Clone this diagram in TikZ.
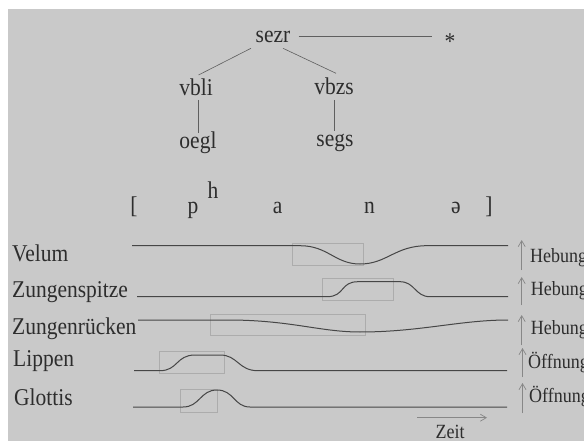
\documentclass[tikz,border=0pt]{standalone}
\usepackage{fontspec}
\setmainfont{Liberation Serif}
\usetikzlibrary{arrows.meta,calc}
\definecolor{bg}{RGB}{201,201,201}
\definecolor{txt}{RGB}{45,45,45}
\definecolor{curve}{RGB}{70,70,70}
\definecolor{boxc}{RGB}{172,172,172}
\definecolor{arrc}{RGB}{135,135,135}
\definecolor{treec}{RGB}{95,95,95}
\newcommand\bigf{\fontsize{21.5}{24}\selectfont}
\newcommand\smallf{\fontsize{18}{20}\selectfont}
\tikzset{
  lbl/.style={inner sep=0pt, anchor=base, font=\bigf, text=txt, yscale=1.12},
  leftlbl/.style={lbl, anchor=base west},
  rightlbl/.style={inner sep=0pt, anchor=base west, font=\smallf, text=txt, yscale=1.12},
  treeline/.style={treec, line width=0.6pt},
  curveline/.style={curve, line width=1pt},
  boxline/.style={boxc, line width=0.6pt},
  uparrow/.style={arrc, line width=0.7pt, -{Straight Barb[length=6pt,width=7pt]}}
}
\begin{document}
\begin{tikzpicture}[x=1pt,y=-1pt]
\useasboundingbox (0,0) rectangle (584,441);
\fill[white] (0,0) rectangle (584,441);
\fill[bg] (8,9) rectangle (584,441);

% tree
\node[lbl] (sezr) at (273,42.7) {sezr};
\node[inner sep=0pt, anchor=north, font=\bigf, text=txt, yscale=1.12] (star) at (450,33.3) {*};
\node[lbl] (vbli) at (196,96) {vbli};
\node[lbl] (vbzs) at (334,94.5) {vbzs};
\node[lbl] (oegl) at (198,148.3) {oegl};
\node[lbl] (segs) at (335,146.7) {segs};
\draw[treeline] ($(sezr.base)+(25.5,-6)$) -- ($(star.north)+(-18,3.4)$);
\draw[treeline] ($(sezr.base)+(-22,5.6)$) -- ($(vbli.base)+(2.5,-21)$);
\draw[treeline] ($(sezr.base)+(10,5.6)$) -- ($(vbzs.base)+(2,-21.2)$);
\draw[treeline] ($(vbli.base)+(2.5,4)$) -- ($(oegl.base)+(0.5,-15)$);
\draw[treeline] ($(vbzs.base)+(0,5.5)$) -- ($(segs.base)+(-1,-15.7)$);

% phonetic transcription
\node[lbl] (lb) at (134,213) {[};
\node[lbl] (p) at (193,213) {p};
\node[lbl] (h) at (213,199) {h};
\node[lbl] (a) at (277.6,213) {a};
\node[lbl] (n) at (369.5,213) {n};
\node[lbl] (schwa) at (456,213) {ə};
\node[lbl] (rb) at (489,213) {]};

% left labels
\node[leftlbl] (velum) at (12,261) {Velum};
\node[leftlbl] (zsp) at (12,297) {Zungenspitze};
\node[leftlbl] (zr) at (12,334) {Zungenrücken};
\node[leftlbl] (lip) at (13,366.7) {Lippen};
\node[leftlbl] (glot) at (14,405.7) {Glottis};

% boxes
\draw[boxline] (292,243) rectangle (363,265);
\draw[boxline] (322.3,278) rectangle (393.3,300);
\draw[boxline] (210,314) rectangle (365,335);
\draw[boxline] (159,351) rectangle (224,373);
\draw[boxline] (180,389) rectangle (217,412);

% curves
\draw[curveline] (132,245.7) -- (300,245.7) .. controls (328,245.7) and (335,264) .. (360,264) .. controls (387,264) and (395,245.7) .. (427,245.7) -- (508,245.7);
\draw[curveline] (137,296.7) -- (327,296.7) .. controls (345,296.7) and (340,281.7) .. (358,281.7) -- (400,281.7) .. controls (415,281.7) and (415,296.7) .. (430,296.7) -- (508,296.7);
\draw[curveline] (138,320) -- (228,320) .. controls (290,320) and (320,332) .. (360,332) .. controls (420,332) and (460,320) .. (508,320);
\draw[curveline] (134,370.7) -- (160,370.7) .. controls (178,370.7) and (176,355) .. (195,355) -- (220,355) .. controls (238,355) and (238,370.7) .. (258,370.7) -- (507,370.7);
\draw[curveline] (133,407) -- (183,407) .. controls (200,407) and (200,390) .. (217,390) .. controls (234,390) and (234,407) .. (250,407) -- (507,407);

% arrows on right
\draw[uparrow] (521.7,270) -- (521.7,240);
\draw[uparrow] (521.7,305) -- (521.7,277);
\draw[uparrow] (521.7,345) -- (521.7,315);
\draw[uparrow] (522.5,377) -- (522.5,348);
\draw[uparrow] (522.5,413) -- (522.5,383);

% right labels
\node[rightlbl] (h1) at (530,262) {Hebung};
\node[rightlbl] (h2) at (530.7,295) {Hebung};
\node[rightlbl] (h3) at (530.7,334) {Hebung};
\node[rightlbl] (o1) at (528,368) {Öffnung};
\node[rightlbl] (o2) at (529,402) {Öffnung};

% time axis
\draw[uparrow] (417,417.7) -- (487,417.7);
\node[rightlbl, anchor=base] (zeit) at (450,438) {Zeit};
\end{tikzpicture}
\end{document}
